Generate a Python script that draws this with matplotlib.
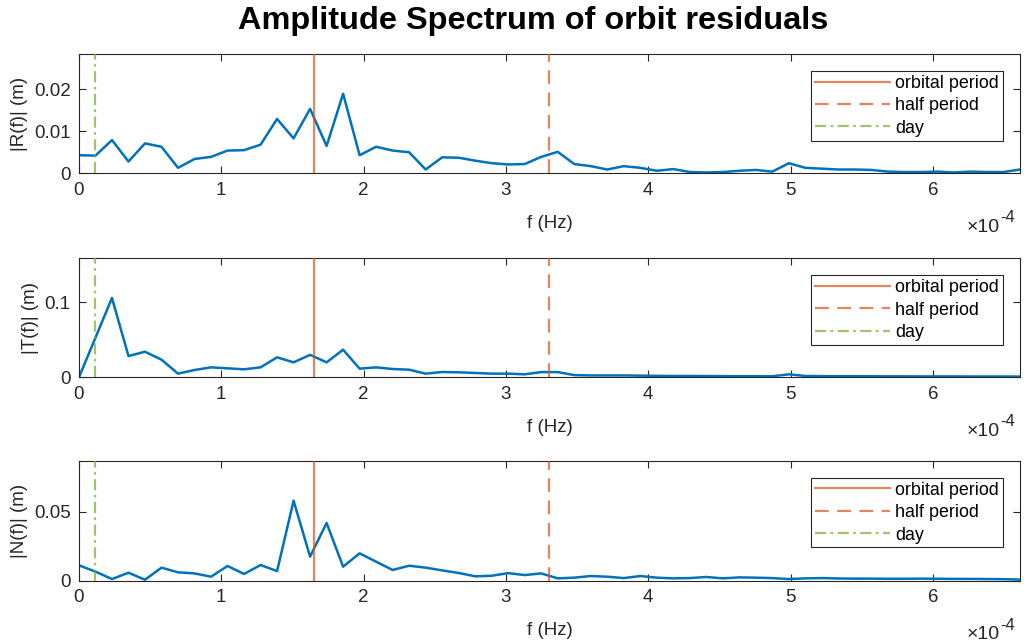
import numpy as np
import matplotlib
matplotlib.use("Agg")
import matplotlib.pyplot as plt
import matplotlib.transforms as mtransforms
from matplotlib.ticker import FuncFormatter

plt.rcParams['font.family'] = ['Liberation Sans', 'DejaVu Sans']

# Frequency resolution of the spectrum (Hz) and reference frequencies
df = 1.16e-5
f_orbit = 1.652e-4
f_half = 3.305e-4
f_day = 1.0 / 86400.0

amp_R = [0.0043, 0.0042, 0.0079, 0.0028, 0.0071, 0.0063, 0.0013, 0.0034, 0.0039, 0.0054,
         0.0055, 0.0068, 0.0129, 0.0083, 0.0153, 0.0065, 0.0189, 0.0043, 0.0063, 0.0054,
         0.0050, 0.0009, 0.0038, 0.0037, 0.0030, 0.0024, 0.0021, 0.0022, 0.0039, 0.0051,
         0.0022, 0.0017, 0.0009, 0.0017, 0.0013, 0.0006, 0.0010, 0.0003, 0.0002, 0.0003,
         0.0006, 0.0008, 0.0004, 0.0024, 0.0013, 0.0011, 0.0009, 0.0009, 0.0008, 0.0004,
         0.0003, 0.0003, 0.0004, 0.0002, 0.0004, 0.0003, 0.0003, 0.0009]

amp_T = [0.0, 0.053, 0.106, 0.0284, 0.0342, 0.0236, 0.0049, 0.0098, 0.0133, 0.0120,
         0.0107, 0.0133, 0.0267, 0.0200, 0.0300, 0.0200, 0.0369, 0.0116, 0.0133, 0.0111,
         0.0102, 0.0049, 0.0071, 0.0067, 0.0058, 0.0049, 0.0049, 0.0040, 0.0070, 0.0070,
         0.0030, 0.0025, 0.0025, 0.0025, 0.0022, 0.0020, 0.0018, 0.0018, 0.0017, 0.0016,
         0.0015, 0.0015, 0.0014, 0.0040, 0.0018, 0.0016, 0.0015, 0.0015, 0.0014, 0.0013,
         0.0013, 0.0012, 0.0012, 0.0012, 0.0011, 0.0011, 0.0011, 0.0010]

amp_N = [0.0112, 0.0066, 0.0012, 0.0058, 0.0007, 0.0095, 0.0061, 0.0053, 0.0029, 0.0107,
         0.0049, 0.0114, 0.0070, 0.0582, 0.0175, 0.0420, 0.0102, 0.0199, 0.0138, 0.0078,
         0.0109, 0.0095, 0.0075, 0.0056, 0.0032, 0.0036, 0.0055, 0.0041, 0.0053, 0.0017,
         0.0022, 0.0034, 0.0029, 0.0019, 0.0034, 0.0022, 0.0017, 0.0019, 0.0027, 0.0017,
         0.0024, 0.0022, 0.0019, 0.0012, 0.0017, 0.0019, 0.0016, 0.0015, 0.0015, 0.0014,
         0.0014, 0.0015, 0.0014, 0.0013, 0.0013, 0.0012, 0.0011, 0.0008]

ylabels = ['|R(f)| (m)', '|T(f)| (m)', '|N(f)| (m)']
yticks = [[0, 0.01, 0.02], [0, 0.1], [0, 0.05]]
xticks = [0, 1e-4, 2e-4, 3e-4, 4e-4, 5e-4, 6e-4]

blue = (0.0, 0.447, 0.741)
orange = (0.85, 0.325, 0.098)
green = (0.466, 0.674, 0.188)
axcol = (0.15, 0.15, 0.15)

fig = plt.figure(figsize=(10.24, 6.44), dpi=100)

boxes = [(0.0771, 0.7309, 0.919, 0.1853),
         (0.0771, 0.4141, 0.919, 0.1848),
         (0.0771, 0.0983, 0.919, 0.1863)]

series = [amp_R, amp_T, amp_N]
for k, (amp, box) in enumerate(zip(series, boxes)):
    ax = fig.add_axes(box)
    amp = np.asarray(amp)
    freq = np.arange(len(amp)) * df
    ax.plot(freq, amp, color=blue, lw=1.8, zorder=2)
    ax.axvline(f_orbit, color=orange, alpha=0.7, lw=1.6, label='orbital period', zorder=3)
    ax.axvline(f_half, color=orange, alpha=0.7, lw=1.6, ls=(0, (6.2, 3.8)),
               label='half period', zorder=3)
    ax.axvline(f_day, color=green, alpha=0.7, lw=1.6, ls=(0, (5, 2, 1.2, 2)),
               label='day', zorder=3)

    ax.set_xlim(0, freq[-1])
    ax.set_ylim(0, 1.5 * amp.max())
    ax.set_xticks(xticks)
    ax.xaxis.set_major_formatter(FuncFormatter(lambda v, p: f'{v / 1e-4:g}'))
    ax.set_yticks(yticks[k])
    ax.yaxis.set_major_formatter(FuncFormatter(lambda v, p: f'{v:g}'))
    ax.tick_params(direction='in', top=True, right=True, length=5, width=0.8,
                   colors=axcol, labelsize=13.5, pad=6)
    for s in ax.spines.values():
        s.set_color(axcol)
        s.set_linewidth(0.8)
    ax.set_xlabel('f (Hz)', fontsize=13.5, color=axcol, labelpad=11.5)
    ax.set_ylabel(ylabels[k], fontsize=13.5, color=axcol, labelpad=4)

    # exponent of the x-axis scale, below the right end of the axis
    t_base = mtransforms.offset_copy(ax.transAxes, fig=fig, x=-20, y=-58.3, units='dots')
    t_exp = mtransforms.offset_copy(ax.transAxes, fig=fig, x=-20, y=-49, units='dots')
    ax.text(1.0, 0.0, '×10', transform=t_base, ha='right', va='baseline',
            fontsize=14, color=axcol)
    ax.text(1.0, 0.0, '-4', transform=t_exp, ha='left', va='baseline',
            fontsize=12, color=axcol)

    leg = ax.legend(loc='upper right', bbox_to_anchor=(0.982, 0.8575), borderaxespad=0,
                    fontsize=12.9, handlelength=4.2, handletextpad=0.3, labelspacing=0.3,
                    fancybox=False, framealpha=1, borderpad=0.22)
    leg.get_frame().set_edgecolor(axcol)
    leg.get_frame().set_linewidth(0.8)

fig.text(0.5205, 1 - 29 / 644, 'Amplitude Spectrum of orbit residuals', fontsize=23.4,
         fontweight='bold', ha='center', va='baseline')

fig.savefig('out.png', dpi=100)
